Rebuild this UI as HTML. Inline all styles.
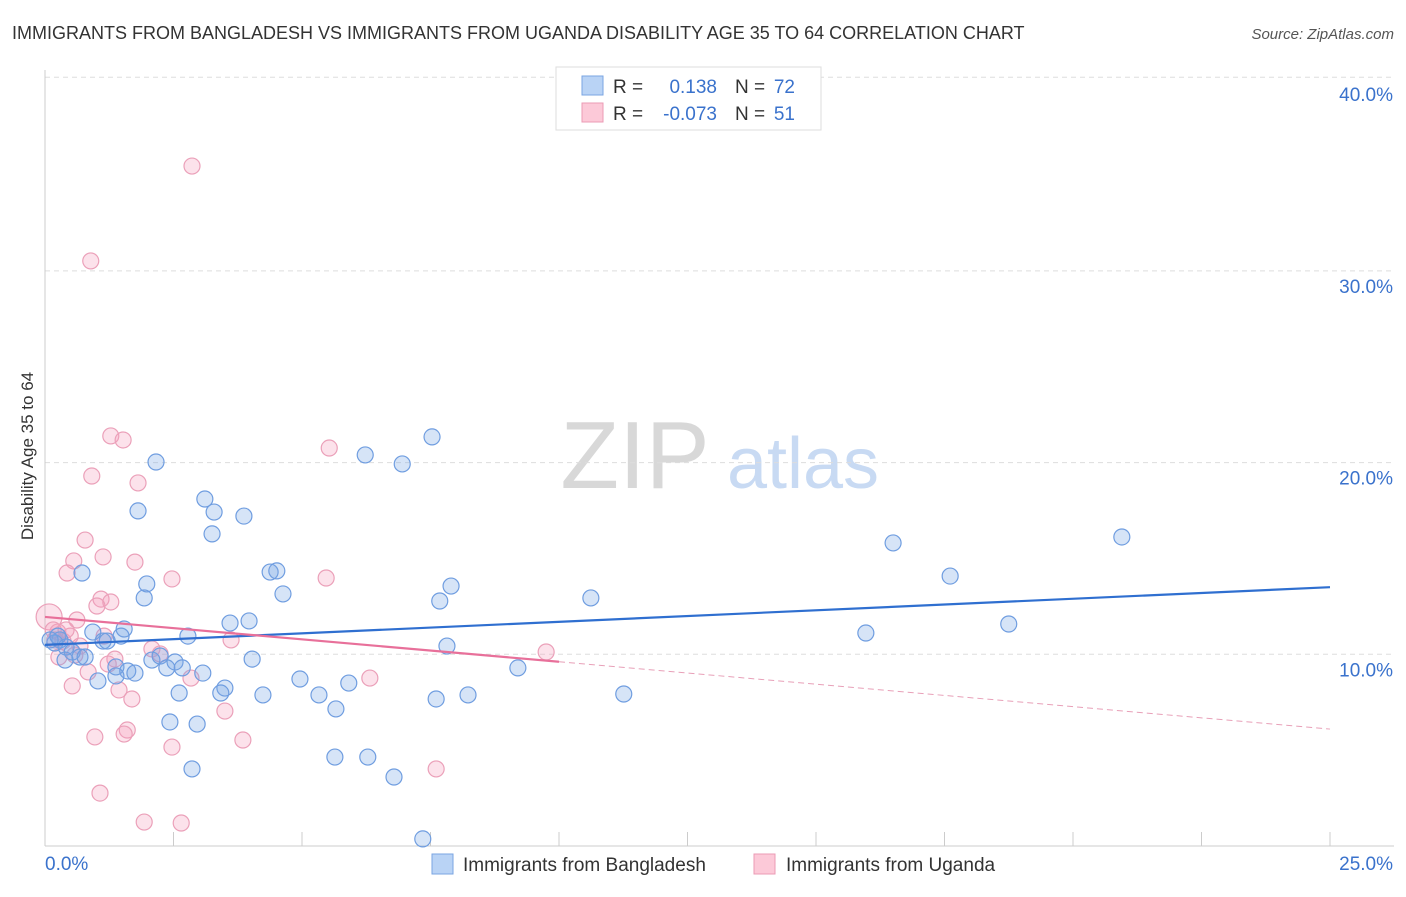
<!DOCTYPE html>
<html><head><meta charset="utf-8">
<style>
body{margin:0;background:#fff;font-family:"Liberation Sans",sans-serif;}
svg text{font-family:"Liberation Sans",sans-serif;}
</style></head>
<body>
<svg id="chart" width="1406" height="892" xmlns="http://www.w3.org/2000/svg">
<text x="12" y="39" font-size="18" fill="#333">IMMIGRANTS FROM BANGLADESH VS IMMIGRANTS FROM UGANDA DISABILITY AGE 35 TO 64 CORRELATION CHART</text>
<text x="1394" y="39" font-size="15" fill="#555" font-style="italic" text-anchor="end">Source: ZipAtlas.com</text>
<g>
<text x="635" y="488" font-size="96" fill="#d8d8d8" font-family="Liberation Serif" text-anchor="middle">ZIP</text>
<text x="803" y="488" font-size="72" fill="#c8daf3" text-anchor="middle">atlas</text>
</g>
<g id="grid"></g>
<g id="axes"></g>
<g id="marks"></g>
<text transform="translate(33,456) rotate(-90)" font-size="17" fill="#333" text-anchor="middle">Disability Age 35 to 64</text>
<g>
<rect x="556" y="67" width="265" height="63" fill="#fff" stroke="#ddd"/>
<rect x="582" y="76" width="21" height="19" fill="#b9d3f5" stroke="#7aa5e2"/>
<rect x="582" y="103" width="21" height="19" fill="#fcc9d8" stroke="#eb9bb5"/>
<text x="613" y="93" font-size="19" fill="#333">R =</text>
<text x="717" y="93" font-size="19" fill="#3a72cc" text-anchor="end">0.138</text>
<text x="735" y="93" font-size="19" fill="#333">N =</text>
<text x="795" y="93" font-size="19" fill="#3a72cc" text-anchor="end">72</text>
<text x="613" y="120" font-size="19" fill="#333">R =</text>
<text x="717" y="120" font-size="19" fill="#3a72cc" text-anchor="end">-0.073</text>
<text x="735" y="120" font-size="19" fill="#333">N =</text>
<text x="795" y="120" font-size="19" fill="#3a72cc" text-anchor="end">51</text>
</g>
<g>
<rect x="432" y="854" width="21" height="20" fill="#b9d3f5" stroke="#7aa5e2"/>
<text x="463" y="871" font-size="19" fill="#333">Immigrants from Bangladesh</text>
<rect x="754" y="854" width="21" height="20" fill="#fcc9d8" stroke="#eb9bb5"/>
<text x="786" y="871" font-size="19" fill="#333">Immigrants from Uganda</text>
</g>
</svg>
<script>
const blueX=[7.53,6.23,6.95,2.16,3.11,1.81,3.29,3.87,3.25,0.72,4.38,4.51,1.98,7.90,4.63,1.93,7.68,10.62,16.50,17.61,20.95,15.97,18.75,3.97,3.60,2.78,1.54,1.48,0.93,1.13,1.21,7.82,0.29,0.19,0.41,0.53,0.68,0.39,0.78,1.38,2.08,2.24,2.53,2.37,2.67,3.07,1.61,1.75,1.38,1.03,4.03,4.96,5.91,5.33,5.66,3.50,3.42,2.61,4.24,7.61,8.23,9.20,11.26,2.43,2.96,2.86,5.64,6.28,6.79,7.35,0.10,0.25];
const blueY=[21.34,20.40,19.93,20.03,18.10,17.48,17.42,17.21,16.28,14.24,14.29,14.35,13.67,13.56,13.15,12.94,12.78,12.94,15.81,14.08,16.12,11.11,11.58,11.74,11.63,10.95,11.32,10.95,11.16,10.69,10.69,10.43,10.75,10.59,10.38,10.12,9.86,9.70,9.86,9.34,9.70,9.91,9.60,9.29,9.29,9.02,9.13,9.02,8.87,8.61,9.75,8.71,8.50,7.88,7.15,8.24,7.98,7.98,7.88,7.67,7.88,9.29,7.93,6.47,6.36,4.02,4.64,4.64,3.60,0.37,10.75,10.95];
const pinkX=[2.86,0.89,5.53,1.28,1.52,0.91,1.81,0.78,1.13,0.56,1.75,0.43,2.47,5.47,1.09,1.28,1.01,0.62,0.08,0.25,1.15,0.49,0.35,2.08,3.62,2.24,1.36,1.23,0.27,0.84,2.84,6.32,9.75,0.53,1.44,1.69,3.50,1.60,1.54,0.97,2.47,3.85,7.61,1.07,1.93,2.65,0.16,0.41,0.68,0.19,0.58];
const pinkY=[35.47,30.52,20.76,21.39,21.18,19.30,18.94,15.96,15.08,14.87,14.81,14.24,13.93,13.98,12.88,12.73,12.52,11.79,11.95,11.16,10.95,10.95,10.69,10.28,10.75,10.02,9.75,9.49,9.86,9.08,8.76,8.76,10.12,8.35,8.14,7.67,7.04,6.05,5.84,5.69,5.16,5.53,4.02,2.76,1.25,1.20,11.27,11.27,10.43,10.75,9.96];
const yTicks=[10,20,30,40];
const yTickLabels=["10.0%","20.0%","30.0%","40.0%"];
const xTickLabels=["0.0%","25.0%"];
const blueTrend=[10.49,13.5];
const pinkTrend=[11.95,6.1];
const pinkSolidEnd=10;
const NS="http://www.w3.org/2000/svg";
const sx=v=>45+v*51.4, sy=v=>846-v*19.17;
function mk(tag,attrs,parent){const e=document.createElementNS(NS,tag);for(const k in attrs)e.setAttribute(k,attrs[k]);parent.appendChild(e);return e;}
const grid=document.getElementById('grid'),axes=document.getElementById('axes'),marks=document.getElementById('marks');
yTicks.forEach((t,i)=>{
 const l=mk('line',{x1:45,x2:1394,y1:sy(t)+ (t==40?-2:0),y2:sy(t)+(t==40?-2:0),stroke:'#ddd','stroke-dasharray':'5,4'},grid);
 
 
 const tx=mk('text',{x:1393,y:sy(t)+22,'font-size':19,fill:'#3a72cc','text-anchor':'end'},axes);
 tx.textContent=yTickLabels[i];
 
 
});
const ax=mk('line',{x1:45,x2:1394,y1:846,y2:846,stroke:'#ccc'},axes);


const ay=mk('line',{x1:45,x2:45,y1:70,y2:846,stroke:'#ccc'},axes);


for(let i=0;i<=10;i++){const t=mk('line',{x1:sx(i*2.5),x2:sx(i*2.5),y1:832,y2:846,stroke:'#ccc'},axes);
 
 }
const xl0=mk('text',{x:45,y:870,'font-size':19,fill:'#3a72cc'},axes);xl0.textContent=xTickLabels[0];


const xl1=mk('text',{x:1393,y:870,'font-size':19,fill:'#3a72cc','text-anchor':'end'},axes);xl1.textContent=xTickLabels[1];


pinkX.forEach((x,i)=>{const c=mk('circle',{cx:sx(x),cy:sy(pinkY[i]),r:(i==18?13:8),fill:'rgba(244,160,188,0.3)',stroke:'#eba0b9','stroke-width':1.2},marks);
 
 });
blueX.forEach((x,i)=>{const c=mk('circle',{cx:sx(x),cy:sy(blueY[i]),r:8,fill:'rgba(120,165,230,0.3)',stroke:'#6f9de0','stroke-width':1.2},marks);
 
 });
const bt=mk('line',{x1:sx(0),y1:sy(blueTrend[0]),x2:sx(25),y2:sy(blueTrend[1]),stroke:'#2f6fd0','stroke-width':2.2},marks);


const pm=pinkTrend[0]+(pinkTrend[1]-pinkTrend[0])*pinkSolidEnd/25;
const pt=mk('line',{x1:sx(0),y1:sy(pinkTrend[0]),x2:sx(pinkSolidEnd),y2:sy(pm),stroke:'#e8709a','stroke-width':2.2},marks);


const pd=mk('line',{x1:sx(pinkSolidEnd),y1:sy(pm),x2:sx(25),y2:sy(pinkTrend[1]),stroke:'#e8a0b8','stroke-width':1,'stroke-dasharray':'6,4'},marks);


</script>
</body></html>
